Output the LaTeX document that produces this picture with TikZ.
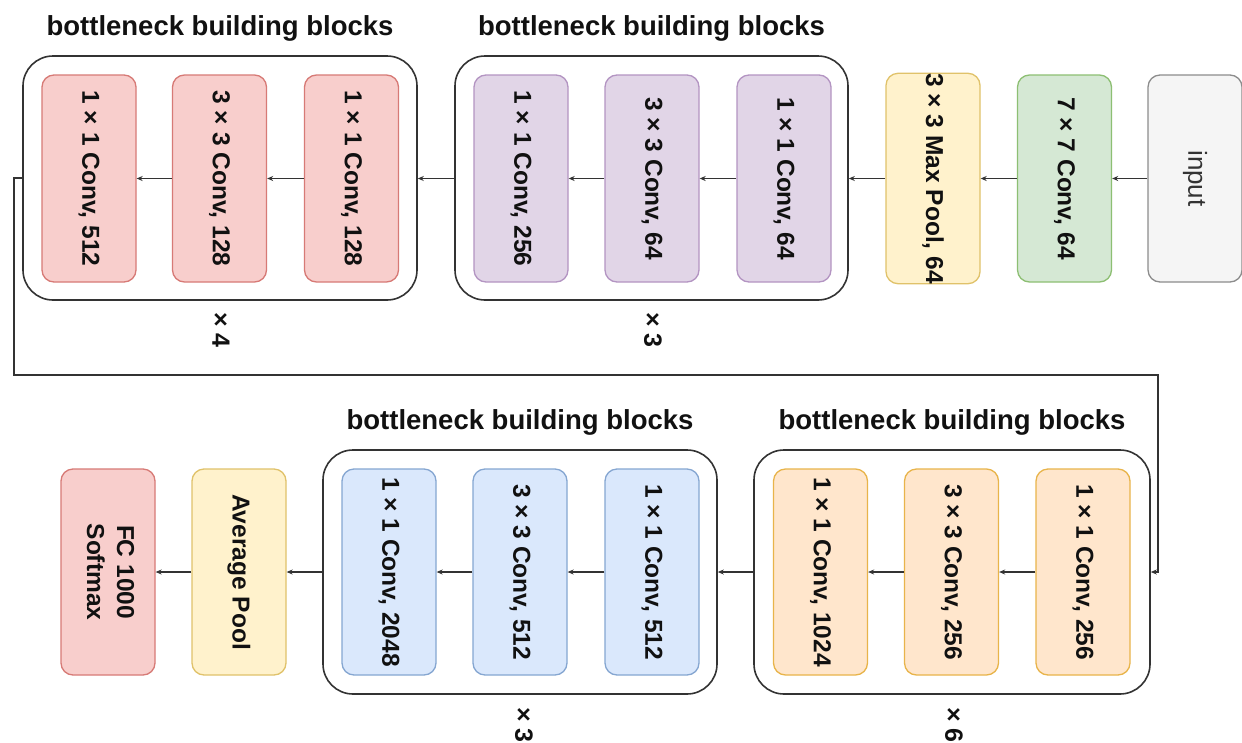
\documentclass[tikz,border=0pt]{standalone}
\usepackage{fontspec}
\usepackage{graphicx}
\setmainfont{Liberation Sans}
\usetikzlibrary{arrows.meta}

% draw.io palette
\definecolor{redF}{HTML}{F8CECC}\definecolor{redD}{HTML}{D77A76}
\definecolor{purF}{HTML}{E1D5E7}\definecolor{purD}{HTML}{B394C2}
\definecolor{yelF}{HTML}{FFF2CC}\definecolor{yelD}{HTML}{E0C26A}
\definecolor{grnF}{HTML}{D5E8D4}\definecolor{grnD}{HTML}{8DBF73}
\definecolor{gryF}{HTML}{F5F5F5}\definecolor{gryD}{HTML}{8C8C8C}
\definecolor{orgF}{HTML}{FFE6CC}\definecolor{orgD}{HTML}{E8B44A}
\definecolor{bluF}{HTML}{DAE8FC}\definecolor{bluD}{HTML}{85A6D1}
\definecolor{ink}{HTML}{111111}
\definecolor{wire}{HTML}{333333}

\newcommand\lblfont{\fontsize{24.5}{30}\selectfont\bfseries}
\newcommand\ttlfont{\fontsize{27.5}{32}\selectfont\bfseries}
\newcommand\repfont{\fontsize{25}{30}\selectfont\bfseries}
\newcommand\vtxt[1]{\rotatebox{-90}{#1}}

\tikzset{
  blk/.style={draw, rounded corners=12, line width=1.3, minimum width=94,
    minimum height=207, inner sep=0, text=ink, font=\lblfont},
  grp/.style={draw=wire, rounded corners=30, line width=1.6, fill=white,
    minimum width=394, minimum height=244, inner sep=0},
  ttl/.style={text=ink, font=\ttlfont, inner sep=0},
  rep/.style={text=ink, font=\repfont, inner sep=0},
  flow/.style={draw=wire, line width=1.3, -{Stealth[length=6pt,width=5pt]}},
}

\begin{document}
\begin{tikzpicture}[x=1pt,y=-1pt]
\useasboundingbox[fill=white] (0,0) rectangle (1242,742);

% ---------------- top row ----------------
\node[grp] (g1) at (220,178) {};
\node[grp, minimum width=393] (g2) at (651.5,178) {};

\node[ttl] (t1) at (220,28) {bottleneck building blocks};
\node[ttl] (t2) at (651.5,28) {bottleneck building blocks};

\node[blk, fill=gryF, draw=gryD, text=wire] (in) at (1195,178.5)
  {\vtxt{\fontsize{26}{30}\selectfont\mdseries input}};
\node[blk, fill=grnF, draw=grnD] (c7) at (1064.5,178.5) {\vtxt{7 × 7 Conv, 64}};
\node[blk, fill=yelF, draw=yelD] (mp) at (933,178.5) {\vtxt{3 × 3 Max Pool, 64}};

\node[blk, fill=purF, draw=purD] (p3) at (784,178.5) {\vtxt{1 × 1 Conv, 64}};
\node[blk, fill=purF, draw=purD] (p2) at (652,178.5) {\vtxt{3 × 3 Conv, 64}};
\node[blk, fill=purF, draw=purD] (p1) at (521,178.5) {\vtxt{1 × 1 Conv, 256}};

\node[blk, fill=redF, draw=redD] (r3) at (351.5,178.5) {\vtxt{1 × 1 Conv, 128}};
\node[blk, fill=redF, draw=redD] (r2) at (219.5,178.5) {\vtxt{3 × 3 Conv, 128}};
\node[blk, fill=redF, draw=redD] (r1) at (89,178.5) {\vtxt{1 × 1 Conv, 512}};

\node[rep] (x1) at (221,330) {\vtxt{× 4}};
\node[rep] (x2) at (653,330) {\vtxt{× 3}};

\draw[flow] (in) -- (c7);
\draw[flow] (c7) -- (mp);
\draw[flow] (mp.west) -- (g2.east |- mp.west);
\draw[flow] (p3) -- (p2);
\draw[flow] (p2) -- (p1);
\draw[flow] (g2.west |- p1.west) -- (g1.east |- r3.east);
\draw[flow] (r3) -- (r2);
\draw[flow] (r2) -- (r1);

% ---------------- bottom row ----------------
\node[grp, minimum width=396] (g3) at (952,572) {};
\node[grp] (g4) at (520,572) {};

\node[ttl] (t3) at (952,422) {bottleneck building blocks};
\node[ttl] (t4) at (520,422) {bottleneck building blocks};

\node[blk, minimum height=206, fill=orgF, draw=orgD] (o3) at (1083,572) {\vtxt{1 × 1 Conv, 256}};
\node[blk, minimum height=206, fill=orgF, draw=orgD] (o2) at (951.5,572) {\vtxt{3 × 3 Conv, 256}};
\node[blk, minimum height=206, fill=orgF, draw=orgD] (o1) at (820.5,572) {\vtxt{1 × 1 Conv, 1024}};

\node[blk, minimum height=206, fill=bluF, draw=bluD] (b3) at (652,572) {\vtxt{1 × 1 Conv, 512}};
\node[blk, minimum height=206, fill=bluF, draw=bluD] (b2) at (520,572) {\vtxt{3 × 3 Conv, 512}};
\node[blk, minimum height=206, fill=bluF, draw=bluD] (b1) at (389,572) {\vtxt{1 × 1 Conv, 2048}};

\node[blk, minimum height=206, fill=yelF, draw=yelD] (ap) at (239,572) {\vtxt{Average Pool}};
\node[blk, minimum height=206, fill=redF, draw=redD] (fc) at (108,572)
  {\vtxt{\begin{tabular}{@{}c@{}}FC 1000\\Softmax\end{tabular}}};

\node[rep, anchor=north] (x3) at (954,707) {\vtxt{× 6}};
\node[rep, anchor=north] (x4) at (524,707) {\vtxt{× 3}};

\draw[flow] (o3) -- (o2);
\draw[flow] (o2) -- (o1);
\draw[flow] (g3.west) -- (g4.east);
\draw[flow] (b3) -- (b2);
\draw[flow] (b2) -- (b1);
\draw[flow] (g4.west) -- (ap);
\draw[flow] (ap) -- (fc);

% ---------------- link between the rows ----------------
\coordinate (fbL) at (14,375);
\coordinate (fbR) at (1158,375);
\draw[flow] (g1.west) -| (fbL) -- (fbR) |- (g3.east);
\end{tikzpicture}
\end{document}
